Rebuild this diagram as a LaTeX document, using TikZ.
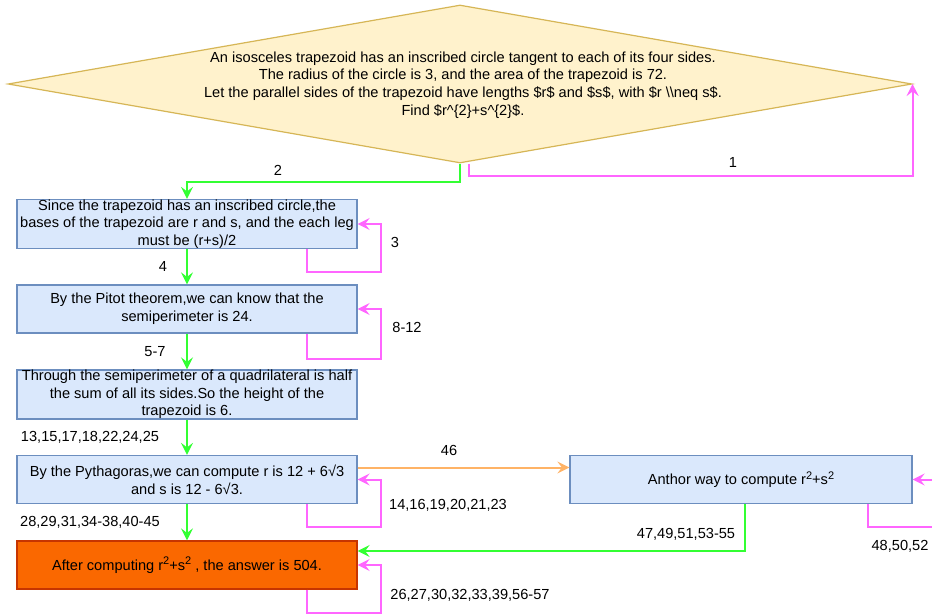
\documentclass[tikz,border=0pt]{standalone}
\usepackage{fontspec}
\setmainfont{Liberation Sans}
\usetikzlibrary{shapes.geometric,arrows.meta}
\definecolor{qfill}{HTML}{FFF2CC}
\definecolor{qline}{HTML}{D6B656}
\definecolor{sfill}{HTML}{DAE8FC}
\definecolor{sline}{HTML}{6C8EBF}
\definecolor{afill}{HTML}{FA6800}
\definecolor{aline}{HTML}{C73500}
\definecolor{gline}{HTML}{33FF33}
\definecolor{pline}{HTML}{FF66FF}
\definecolor{oline}{HTML}{FFB366}
\newcommand{\sqr}{\raisebox{5.5pt}{\fontsize{11}{11}\selectfont 2}}
\begin{document}
\begin{tikzpicture}[x=1pt,y=-1pt,
  font=\fontsize{14.6}{17.7}\selectfont,
  stepbox/.style={draw=sline, fill=sfill, line width=1.2pt,
    minimum width=340pt, minimum height=48pt, align=center, inner sep=0pt},
  answerbox/.style={stepbox, draw=aline, fill=afill},
  link/.style={line width=2pt, -{Stealth[length=12pt,width=12pt,inset=4.5pt]}},
  forward/.style={link, draw=gline},
  retry/.style={link, draw=pline},
  branch/.style={link, draw=oline},
  tag/.style={inner sep=0pt}]
\clip (0,0) rectangle (932,615);
\fill[white] (0,0) rectangle (932,615);

% question
\node[diamond, draw=qline, fill=qfill, line width=1.2pt, inner sep=0pt,
  minimum width=904pt, minimum height=158pt, aspect=5.72] (q) at (460,84) {};
\node[align=center] (qt) at (463,85) {An isosceles trapezoid has an inscribed circle tangent to each of its four sides.\\
The radius of the circle is 3, and the area of the trapezoid is 72.\\
Let the parallel sides of the trapezoid have lengths \$r\$ and \$s\$, with \$r \textbackslash\textbackslash neq s\$.\\
Find \$r\textasciicircum\{2\}+s\textasciicircum\{2\}\$.};

% reasoning steps
\node[stepbox] (b1) at (187,224) {Since the trapezoid has an inscribed circle,the\\bases of the trapezoid are r and s, and the each leg\\must be (r+s)/2};
\node[stepbox] (b2) at (187,309) {By the Pitot theorem,we can know that the\\semiperimeter is 24.};
\node[stepbox] (b3) at (187,394.5) {Through the semiperimeter of a quadrilateral is half\\the sum of all its sides.So the height of the\\trapezoid is 6.};
\node[stepbox] (b4) at (187,479.5) {By the Pythagoras,we can compute r is 12 + 6√3\\and s is 12 - 6√3.};
\node[answerbox] (b5) at (187,565) {After computing r\sqr+s\sqr\ , the answer is 504.};
\node[stepbox, minimum width=342pt] (b6) at (741,479.5) {Anthor way to compute r\sqr+s\sqr};

% main path
\draw[forward] (q.south) -- ++(0,18) -| (b1.north);
\draw[retry] ([xshift=9pt]q.south) -- ++(0,12) -| (q.east);
\draw[forward] (b1) -- (b2);
\draw[forward] (b2) -- (b3);
\draw[forward] (b3) -- (b4);
\draw[forward] (b4) -- (b5);
\draw[branch] ([yshift=12pt]b4.east) -- ([yshift=12pt]b6.west);
\draw[forward] (b6.south) ++(4,0) |- ([yshift=14pt]b5.east);

% self loops
\draw[retry] ([xshift=120pt]b1.south) |- ++(74,23) |- (b1.east);
\draw[retry] ([xshift=120pt]b2.south) |- ++(74,25) |- (b2.east);
\draw[retry] ([xshift=120pt]b4.south) |- ++(74,23) |- (b4.east);
\draw[retry] ([xshift=120pt]b5.south) |- ++(74,23) |- (b5.east);
\draw[retry] ([xshift=127pt]b6.south) |- ++(80,23) |- (b6.east);

% edge labels
\node[tag] (l1) at (733,162) {1};
\node[tag] (l2) at (278,170) {2};
\node[tag] (l3) at (395,242) {3};
\node[tag] (l4) at (163,266) {4};
\node[tag] (l5) at (155,352) {5-7};
\node[tag] (l8) at (407,327) {8-12};
\node[tag] (l13) at (90,437) {13,15,17,18,22,24,25};
\node[tag] (l14) at (448,505) {14,16,19,20,21,23};
\node[tag] (l28) at (90,522) {28,29,31,34-38,40-45};
\node[tag] (l26) at (470,595) {26,27,30,32,33,39,56-57};
\node[tag] (l46) at (449,450) {46};
\node[tag] (l47) at (686,534) {47,49,51,53-55};
\node[tag] (l48) at (900,546) {48,50,52};
\end{tikzpicture}
\end{document}
